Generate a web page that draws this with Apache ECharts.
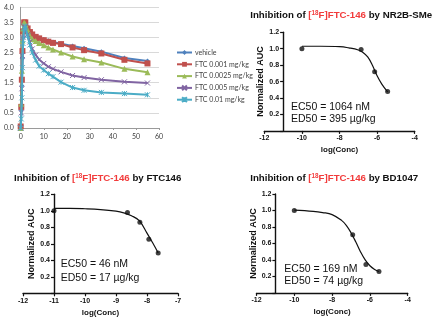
<!DOCTYPE html>
<html>
<head>
<meta charset="utf-8">
<script src="https://cdn.jsdelivr.net/npm/echarts@6/dist/echarts.min.js"></script>
<style>
  html, body { margin: 0; padding: 0; background: #ffffff; }
  #chart { width: 440px; height: 326px; }
</style>
</head>
<body>
<div id="chart"></div>
<script>
// ---- Time-activity curves (minutes after injection) ----
const times = [0, 0.25, 0.5, 0.75, 1, 1.5, 2, 3, 4, 5, 6.5, 8, 10, 12, 14, 17.5, 22.5, 27.5, 35, 45, 55];
const vehicle  = [0, 0.6, 1.4, 2.3, 3.0, 3.4, 3.45, 3.35, 3.2, 3.12, 3.03, 2.98, 2.93, 2.89, 2.85, 2.79, 2.72, 2.64, 2.53, 2.32, 2.22];
const ftc0001  = [0.05, 0.7, 1.6, 2.55, 3.2, 3.5, 3.5, 3.3, 3.18, 3.1, 3.02, 2.97, 2.91, 2.86, 2.82, 2.78, 2.67, 2.58, 2.47, 2.26, 2.14];
const ftc00025 = [0, 0.8, 1.9, 2.9, 3.3, 3.5, 3.45, 3.25, 3.05, 2.95, 2.88, 2.82, 2.74, 2.67, 2.6, 2.5, 2.37, 2.28, 2.17, 1.96, 1.85];
const ftc0005  = [0, 0.5, 1.3, 2.4, 3.0, 3.35, 3.35, 3.1, 2.85, 2.62, 2.42, 2.27, 2.14, 2.03, 1.96, 1.86, 1.74, 1.67, 1.6, 1.53, 1.49];
const ftc001   = [0, 0.3, 1.0, 2.0, 2.8, 3.3, 3.38, 3.05, 2.75, 2.5, 2.25, 2.05, 1.92, 1.8, 1.7, 1.52, 1.34, 1.25, 1.18, 1.14, 1.1];
const tacNames = ['vehicle', 'FTC 0.001 mg/kg', 'FTC 0.0025 mg/kg', 'FTC 0.005 mg/kg', 'FTC 0.01 mg/kg'];

// ---- Dose-response: NR2B-SMe ----
const nr2bLogConc = [-10, -6.85, -6.13, -5.44];
const nr2bAuc     = [1.0, 0.99, 0.72, 0.48];
const nr2bFitLog  = [-10, -9, -8, -7.5, -7, -6.75, -6.5, -6.25, -6, -5.75, -5.44];
const nr2bFitAuc  = [1.03, 1.03, 1.025, 1.01, 0.985, 0.955, 0.9, 0.8, 0.67, 0.57, 0.475];

// ---- Dose-response: FTC146 ----
const ftcLogConc = [-11, -8.63, -8.23, -7.94, -7.64];
const ftcAuc     = [1.0, 0.98, 0.86, 0.655, 0.49];
const ftcFitLog  = [-11, -10.5, -10, -9.5, -9, -8.75, -8.5, -8.25, -8, -7.8, -7.64];
const ftcFitAuc  = [1.03, 1.03, 1.025, 1.015, 0.995, 0.975, 0.94, 0.88, 0.73, 0.6, 0.49];

// ---- Dose-response: BD1047 ----
const bdLogConc = [-10, -6.91, -6.21, -5.52];
const bdAuc     = [1.0, 0.705, 0.345, 0.26];
const bdFitLog  = [-10, -9, -8.5, -8, -7.5, -7.25, -7, -6.75, -6.5, -6.25, -6, -5.75, -5.52];
const bdFitAuc  = [1.005, 0.99, 0.975, 0.95, 0.88, 0.82, 0.73, 0.62, 0.5, 0.4, 0.33, 0.285, 0.26];

const pairs = (xs, ys) => xs.map((x, i) => [x, ys[i]]);

const tacColors = ['#4F81BD', '#C0504D', '#9BBB59', '#8064A2', '#4BACC6'];
const tacSymbols = [
  'diamond', 'rect', 'triangle',
  'path://M0 0L10 10M10 0L0 10',
  'path://M0 0L10 10M10 0L0 10M5 0L5 10'
];
const tacSizes = [5, 6, 6, 5, 5];
const tacData = [vehicle, ftc0001, ftc00025, ftc0005, ftc001];

const AXIS_FONT = 'Liberation Sans';
const RED = '#f23b3b';

// GraphPad-style axes for a dose-response panel
function drPanel(idx, rect, xMin, xMax, xInterval, yAxisAt) {
  const pxPerUnit = rect.width / (xMax - xMin);
  return {
    grid: { left: rect.left, top: rect.top, width: rect.width, height: rect.height, containLabel: false, outerBoundsMode: 'none' },
    xAxis: {
      type: 'value', gridIndex: idx, min: xMin, max: xMax, interval: xInterval,
      axisLine: { lineStyle: { color: '#111', width: 1.4 } },
      axisTick: { show: true, length: 3, lineStyle: { color: '#111', width: 1.2 } },
      axisLabel: { color: '#111', fontSize: 7, fontWeight: 'bold', fontFamily: AXIS_FONT, margin: 4 },
      splitLine: { show: false },
      name: 'log(Conc)', nameLocation: 'middle', nameGap: 15,
      nameTextStyle: { color: '#111', fontSize: 8, fontWeight: 'bold', fontFamily: AXIS_FONT }
    },
    yAxis: {
      type: 'value', gridIndex: idx, min: 0, max: 1.2, interval: 0.2,
      offset: -(yAxisAt - xMin) * pxPerUnit,
      axisLine: { show: true, lineStyle: { color: '#111', width: 1.4 } },
      axisTick: { show: true, length: 3, lineStyle: { color: '#111', width: 1.2 } },
      axisLabel: { color: '#111', fontSize: 7, fontWeight: 'bold', fontFamily: AXIS_FONT, margin: 4,
        formatter: v => (v === 0 ? '' : v.toFixed(1)) },
      splitLine: { show: false },
      name: 'Normalized AUC', nameLocation: 'middle', nameGap: 15, nameRotate: 90,
      nameTextStyle: { color: '#111', fontSize: 9, fontWeight: 'bold', fontFamily: AXIS_FONT }
    }
  };
}

const p2 = drPanel(1, { left: 264.3, top: 32.3, width: 150.4, height: 98.6 }, -12, -4, 2, -11);
const p3 = drPanel(2, { left: 23, top: 194.3, width: 155, height: 99 }, -12, -7, 1, -11);
const p4 = drPanel(3, { left: 256.5, top: 194, width: 151.2, height: 98.9 }, -12, -4, 2, -11);

const tacSeries = tacNames.map((name, i) => ({
  name, type: 'line', xAxisIndex: 0, yAxisIndex: 0,
  data: pairs(times, tacData[i]),
  symbol: tacSymbols[i], symbolSize: tacSizes[i],
  showSymbol: true,
  lineStyle: { color: tacColors[i], width: 2 },
  itemStyle: { color: tacColors[i], borderColor: tacColors[i], borderWidth: i >= 3 ? 1 : 0 },
  z: 2 + i,
  animation: false
}));

function drSeries(idx, xs, ys, fx, fy) {
  return [
    { type: 'line', xAxisIndex: idx, yAxisIndex: idx, data: pairs(fx, fy), smooth: 0.4,
      showSymbol: false, symbol: 'none', lineStyle: { color: '#111', width: 1.2 }, animation: false },
    { type: 'scatter', xAxisIndex: idx, yAxisIndex: idx, data: pairs(xs, ys),
      symbol: 'circle', symbolSize: 5, itemStyle: { color: '#111' }, animation: false }
  ];
}

const titleRich = {
  b: { fontSize: 9.7, fontWeight: 'bold', fill: '#111', fontFamily: AXIS_FONT },
  r: { fontSize: 9.7, fontWeight: 'bold', fill: RED, fontFamily: AXIS_FONT },
  s: { fontSize: 6.3, fontWeight: 'bold', fill: RED, fontFamily: AXIS_FONT, verticalAlign: 'top' }
};
function titleText(x, y, agent) {
  return {
    type: 'text', x, y, z: 100,
    style: {
      text: '{b|Inhibition of }{r|[}{s|18}{r|F]FTC-146}{b| by ' + agent + '}',
      rich: titleRich, align: 'center', verticalAlign: 'middle'
    }
  };
}
function noteText(x, y, text) {
  return {
    type: 'text', x, y, z: 100,
    style: { text, fill: '#111', fontSize: 10.5, fontFamily: AXIS_FONT, align: 'left', verticalAlign: 'middle' }
  };
}

const option = {
  backgroundColor: '#ffffff',
  animation: false,
  grid: [
    { left: 20.7, top: 7.3, width: 138.3, height: 120.7, containLabel: false, outerBoundsMode: 'none' },
    p2.grid, p3.grid, p4.grid
  ],
  xAxis: [
    {
      type: 'value', gridIndex: 0, min: 0, max: 60, interval: 10,
      axisLine: { lineStyle: { color: '#9a9a9a', width: 1 } },
      axisTick: { show: true, length: 2, lineStyle: { color: '#9a9a9a' } },
      axisLabel: { color: '#404040', fontSize: 7, fontFamily: 'Lato', margin: 5 },
      splitLine: { show: false }
    },
    p2.xAxis, p3.xAxis, p4.xAxis
  ],
  yAxis: [
    {
      type: 'value', gridIndex: 0, min: 0, max: 4, interval: 0.5,
      axisLine: { show: true, lineStyle: { color: '#9a9a9a', width: 1 } },
      axisTick: { show: false },
      axisLabel: { color: '#404040', fontSize: 7, fontFamily: 'Lato', margin: 7, formatter: v => v.toFixed(1) },
      splitLine: { show: true, lineStyle: { color: '#d9d9d9', width: 1 } }
    },
    p2.yAxis, p3.yAxis, p4.yAxis
  ],
  legend: {
    orient: 'vertical', left: 171, top: 43.5,
    itemWidth: 15, itemHeight: 6, itemGap: 3.8,
    data: tacNames,
    textStyle: { color: '#404040', fontSize: 7, fontFamily: 'Lato', lineHeight: 8, padding: [0, 0, 0, -2] }
  },
  series: [
    ...tacSeries,
    ...drSeries(1, nr2bLogConc, nr2bAuc, nr2bFitLog, nr2bFitAuc),
    ...drSeries(2, ftcLogConc, ftcAuc, ftcFitLog, ftcFitAuc),
    ...drSeries(3, bdLogConc, bdAuc, bdFitLog, bdFitAuc)
  ],
  graphic: [
    titleText(341.2, 15.7, 'NR2B-SMe'),
    titleText(97.7, 178, 'FTC146'),
    titleText(334.2, 178, 'BD1047'),
    noteText(291, 107.3, 'EC50 = 1064 nM'),
    noteText(291, 119.5, 'ED50 = 395 µg/kg'),
    noteText(60.7, 264.3, 'EC50 = 46 nM'),
    noteText(60.7, 277.7, 'ED50 = 17 µg/kg'),
    noteText(284.3, 268.7, 'EC50 = 169 nM'),
    noteText(284.3, 281.3, 'ED50 = 74 µg/kg')
  ]
};

const chart = echarts.init(document.getElementById('chart'), null, { renderer: 'canvas' });
chart.setOption(option);
</script>
</body>
</html>
